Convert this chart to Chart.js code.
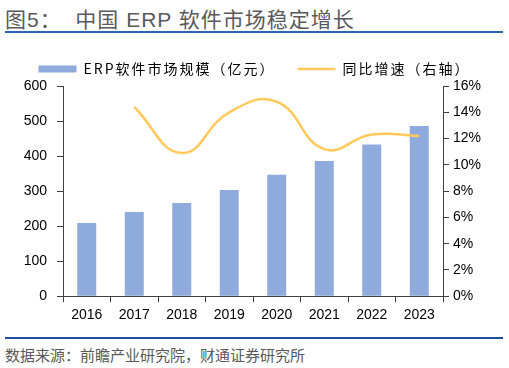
<!DOCTYPE html>
<html>
<head>
<meta charset="utf-8">
<script src="https://cdn.jsdelivr.net/npm/chart.js@4"></script>
<style>
  html, body { margin: 0; padding: 0; background: #fff; }
  #wrap { position: relative; width: 509px; height: 368px; overflow: hidden; font-family: "Liberation Sans", "Noto Sans CJK SC", sans-serif; }
  #title { position: absolute; left: 5px; top: 3px; font-size: 21px; letter-spacing: 1px; color: #595959; font-family: "Liberation Sans", "Noto Sans CJK SC", sans-serif; white-space: pre; }
  .rule { position: absolute; left: 5px; width: 498px; height: 2px; }
  #rule-top { top: 31px; background: #2a66b8; }
  #rule-bot { top: 337px; background: #1f4e9a; }
  #source { position: absolute; left: 5px; top: 344px; font-size: 15px; color: #595959; font-family: "Noto Sans CJK SC", sans-serif; }
  #box { position: absolute; left: 0; top: 40px; width: 509px; height: 292px; }
</style>
</head>
<body>
<div id="wrap">
  <div id="title">图5：  中国 ERP 软件市场稳定增长</div>
  <div class="rule" id="rule-top"></div>
  <div id="box"><canvas id="erpChart"></canvas></div>
  <div class="rule" id="rule-bot"></div>
  <div id="source">数据来源：前瞻产业研究院，财通证券研究所</div>
</div>
<script>
const years = ['2016', '2017', '2018', '2019', '2020', '2021', '2022', '2023'];
const marketSize = [209, 240, 266, 303, 347, 386, 433, 486];   // 亿元
const growthPct = [null, 14.4, 10.9, 14.0, 14.8, 11.2, 12.3, 12.2]; // %

const axisColor = '#404040';
const tickFont = { family: '"Liberation Sans", Arial, sans-serif', size: 14 };

const chart = new Chart(document.getElementById('erpChart'), {
    data: {
        labels: years,
        datasets: [
            { type: 'line', label: '同比增速（右轴）', data: growthPct, yAxisID: 'y1', borderColor: '#ffc95c', borderWidth: 2.5, pointRadius: 0, tension: 0.45, pointStyle: 'line', order: 0 },
            { type: 'bar', label: 'ERP软件市场规模（亿元）', data: marketSize, yAxisID: 'y', backgroundColor: '#8faadc', barPercentage: 0.4, categoryPercentage: 1, pointStyle: 'rect', order: 1 }
        ]
    },
    options: {
        responsive: true, maintainAspectRatio: false, animation: false,
        layout: { padding: { top: 0, left: 0, right: 0, bottom: 3 } },
        plugins: {
            tooltip: { enabled: false },
            legend: {
                position: 'top',
                reverse: true,
                labels: {
                    usePointStyle: true, pointStyleWidth: 38, boxHeight: 7, padding: 22,
                    color: '#000', font: { family: '"Noto Sans CJK SC", sans-serif', size: 14 }
                }
            }
        },
        scales: {
            x: {
                grid: { display: true, drawOnChartArea: false, offset: true, color: axisColor, tickLength: 6 },
                border: { display: true, color: axisColor, width: 1 },
                ticks: { color: '#000', font: tickFont, padding: 5 }
            },
            y: {
                position: 'left', min: 0, max: 600,
                afterFit: s => { s.width = 63; },
                grid: { display: true, drawOnChartArea: false, color: axisColor, tickLength: 6 },
                border: { display: true, color: axisColor, width: 1 },
                ticks: { stepSize: 100, color: '#000', font: tickFont, padding: 10 }
            },
            y1: {
                position: 'right', min: 0, max: 16,
                afterFit: s => { s.width = 66; },
                grid: { display: true, drawOnChartArea: false, color: axisColor, tickLength: 6 },
                border: { display: true, color: axisColor, width: 1 },
                ticks: { stepSize: 2, color: '#000', font: tickFont, padding: 4, callback: v => v + '%' }
            }
        }
    }
});

// legend text in the source is spaced out a little
const lg = chart.legend;
['fit', 'draw'].forEach(fn => {
    const orig = lg[fn].bind(lg);
    lg[fn] = (...args) => {
        const prev = chart.ctx.letterSpacing;
        chart.ctx.letterSpacing = '2px';
        orig(...args);
        chart.ctx.letterSpacing = prev;
    };
});
chart.update();
</script>
</body>
</html>
